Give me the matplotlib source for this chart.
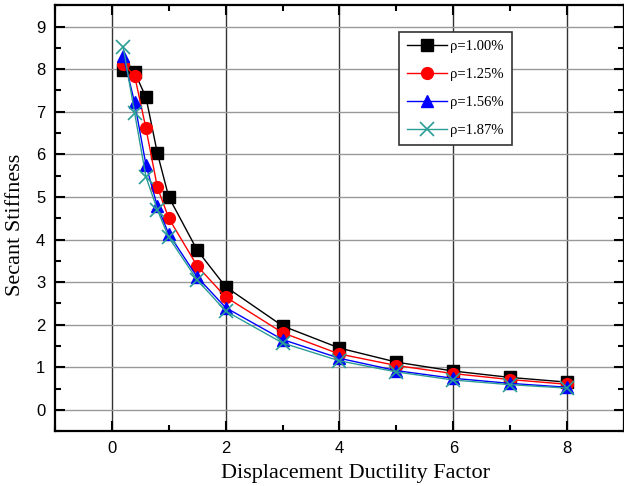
import matplotlib
matplotlib.use("Agg")
import matplotlib.pyplot as plt
from matplotlib.ticker import MultipleLocator

ductility = [0.2, 0.4, 0.6, 0.8, 1.0, 1.5, 2, 3, 4, 5, 6, 7, 8]
rho_100 = [7.98, 7.93, 7.34, 6.03, 5.00, 3.75, 2.89, 1.97, 1.45, 1.12, 0.91, 0.76, 0.65]
rho_125 = [8.12, 7.85, 6.61, 5.23, 4.50, 3.38, 2.65, 1.81, 1.31, 1.04, 0.85, 0.71, 0.60]
rho_156 = [8.32, 7.22, 5.75, 4.78, 4.13, 3.12, 2.40, 1.65, 1.21, 0.92, 0.74, 0.62, 0.53]
rho_187 = [8.52, 6.98, 5.47, 4.70, 4.05, 3.05, 2.32, 1.57, 1.15, 0.89, 0.70, 0.59, 0.51]

series = [
    (rho_100, "ρ=1.00%", "black", "s"),
    (rho_125, "ρ=1.25%", "red", "o"),
    (rho_156, "ρ=1.56%", "blue", "^"),
    (rho_187, "ρ=1.87%", "#2a9d96", "x"),
]

fig = plt.figure(figsize=(6.24, 4.86), dpi=100)
ax = fig.add_axes([0.088, 0.113, 0.912, 0.876])

for values, label, color, marker in series:
    ax.plot(ductility, values, color=color, marker=marker, linewidth=1.0,
            markersize=8.5 if marker != "x" else 9.5, markeredgewidth=1.0 if marker != "x" else 1.2,
            label=label)

ax.set_xlim(-1, 9)
ax.set_ylim(-0.5, 9.5)
ax.xaxis.set_major_locator(MultipleLocator(2))
ax.xaxis.set_minor_locator(MultipleLocator(1))
ax.yaxis.set_major_locator(MultipleLocator(1))
ax.yaxis.set_minor_locator(MultipleLocator(0.5))
ax.tick_params(which="both", direction="in", top=True, right=True, width=1.5)
ax.tick_params(which="major", length=7, labelsize=12)
ax.tick_params(which="minor", length=4)
ax.tick_params(axis="x", which="major", pad=7)
ax.tick_params(axis="y", which="major", pad=7)
for lab in ax.get_xticklabels() + ax.get_yticklabels():
    lab.set_fontfamily("Liberation Sans")
for spine in ax.spines.values():
    spine.set_linewidth(1.6)

ax.grid(True, axis="x", color="#333333", linewidth=1.0)
ax.grid(True, axis="y", color="#999999", linewidth=1.0)
ax.set_axisbelow(True)

ax.set_xlabel("Displacement Ductility Factor", family="Liberation Serif", fontsize=16)
ax.set_ylabel("Secant Stiffness", family="Liberation Serif", fontsize=16)
ax.xaxis.set_label_coords(0.528, -0.078)
ax.yaxis.set_label_coords(-0.053, 0.485)

leg = ax.legend(loc="upper left", bbox_to_anchor=(0.604, 0.937), prop={"family": "Liberation Serif", "size": 10.5},
                frameon=True, fancybox=False, edgecolor="#333333", framealpha=1, handlelength=2.8,
                labelspacing=1.0, borderpad=0.55, handletextpad=0.2, borderaxespad=0)
leg.get_frame().set_linewidth(1.2)

fig.savefig("out.png", dpi=100)
